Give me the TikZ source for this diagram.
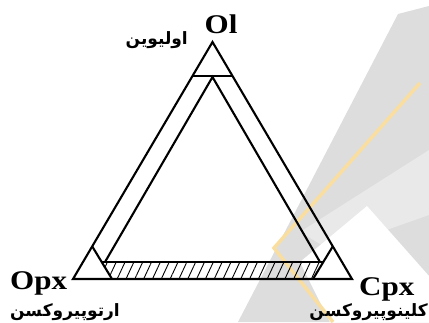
\documentclass[tikz,border=0pt]{standalone}
\usepackage{fontspec}
\setmainfont{Liberation Serif}
\newfontfamily\arabicfont[Script=Arabic]{DejaVu Sans}
\TeXXeTstate=1
\usetikzlibrary{patterns.meta}
\definecolor{wmgray}{RGB}{221,221,221}
\definecolor{wmlight}{RGB}{233,233,233}
\definecolor{wmyellow}{RGB}{250,222,160}
\newcommand{\wideLbl}[1]{\scalebox{1.15}[1]{#1}}
\tikzset{
  edge/.style={line width=2.1pt, line join=miter, line cap=butt},
  latinlbl/.style={font=\fontsize{27}{27}\selectfont\bfseries, inner sep=0pt},
  farsilbl/.style={font=\arabicfont\fontsize{17}{17}\selectfont\bfseries, inner sep=0pt},
}
\begin{document}
\begin{tikzpicture}[x=1pt,y=-1pt]
\useasboundingbox (0,0) rectangle (429,322);
% watermark
\fill[wmgray] (398,14) -- (429,6) -- (429,322) -- (238,322) -- cycle;
\fill[wmlight] (429,150) -- (429,215) -- (330,250) -- (300,232) -- cycle;
\fill[white] (367,206) -- (429,276) -- (429,322) -- (330,322) -- (300,262) -- cycle;
\draw[wmyellow, line width=3.5pt] (420,83) -- (274,248) -- (333,322);
% coordinates
\coordinate (A) at (212.5,42);
\coordinate (B) at (73,279);
\coordinate (C) at (352,279);
\coordinate (T1) at (192.5,76);
\coordinate (T2) at (232.5,76);
\coordinate (I1) at (212.5,77);
\coordinate (I2) at (105,262);
\coordinate (I3) at (320,262);
\coordinate (L1) at (112,279);
\coordinate (L2) at (92,246);
\coordinate (R1) at (313,279);
\coordinate (R2) at (333,246);
\coordinate (H1) at (101.7,262);
\coordinate (H2) at (323.3,262);
% hatch band
\path[pattern={Lines[angle=65,distance=8pt,line width=0.9pt]}] (H1) -- (H2) -- (R1) -- (L1) -- cycle;
% outer triangle
\draw[edge] (A) -- (B) -- (C) -- cycle;
\draw[edge] (T1) -- (T2);
\draw[edge] (I2) -- (I1) -- (I3);
\draw[edge] (H1) -- (H2);
\draw[edge] (L1) -- (L2);
\draw[edge] (R1) -- (R2);
% labels
\node[latinlbl, anchor=base] (ol) at (221,33) {\wideLbl{Ol}};
\node[latinlbl, anchor=base west] (opx) at (10,289) {\wideLbl{Opx}};
\node[latinlbl, anchor=base west] (cpx) at (359,295) {\wideLbl{Cpx}};
\node[farsilbl, anchor=base east] (olf) at (188,44) {\beginR اولیوین\endR};
\node[farsilbl, anchor=base west] (opxf) at (10,316) {\beginR ارتوپیروکسن\endR};
\node[farsilbl, anchor=base east] (cpxf) at (428,316) {\beginR کلینوپیروکسن\endR};
\end{tikzpicture}
\end{document}
